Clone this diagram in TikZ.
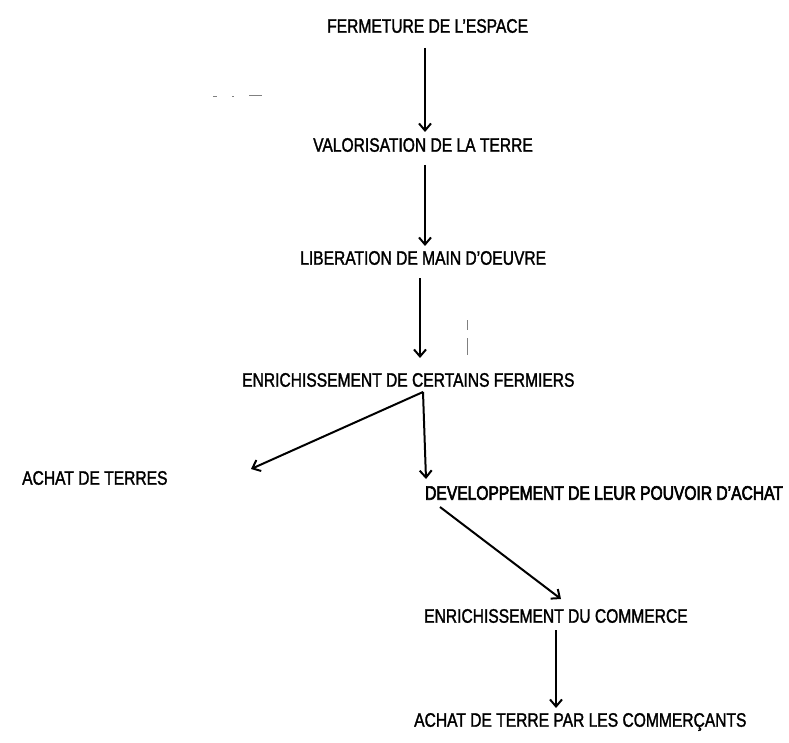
\documentclass[tikz,border=0pt]{standalone}
\usepackage{fontspec}
\setmainfont{Liberation Sans}[FakeStretch=0.8,FakeBold=1.5]
\usetikzlibrary{arrows.meta}
\begin{document}
\begin{tikzpicture}[x=1pt,y=-1pt,
  lbl/.style={inner sep=0pt,font=\fontsize{19.5}{22}\selectfont,anchor=west},
  boldlbl/.style={lbl,font=\fontsize{19.5}{22}\selectfont\addfontfeature{FakeBold=3}},
  arr/.style={line width=2pt,-{Straight Barb[length=7pt,width=12pt,line width=2pt]}},
  speck/.style={line width=0.8pt,gray}]
\useasboundingbox (0,0) rectangle (789,743);
\node[lbl] (n1) at (327,26) {FERMETURE DE L'ESPACE};
\node[lbl] (n2) at (313,145) {VALORISATION DE LA TERRE};
\node[lbl] (n3) at (300,258) {LIBERATION DE MAIN D'OEUVRE};
\node[lbl] (n4) at (242,380) {ENRICHISSEMENT DE CERTAINS FERMIERS};
\node[lbl] (n5) at (22,478) {ACHAT DE TERRES};
\node[boldlbl] (n6) at (425,493) {DEVELOPPEMENT DE LEUR POUVOIR D'ACHAT};
\node[lbl] (n7) at (424,616) {ENRICHISSEMENT DU COMMERCE};
\node[lbl] (n8) at (414,722) {ACHAT DE TERRE PAR LES COMMERÇANTS};
\coordinate (s1) at (425,48);  \coordinate (e1) at (425,132);
\coordinate (s2) at (425,165); \coordinate (e2) at (425,246);
\coordinate (s3) at (420,278); \coordinate (e3) at (420,358);
\coordinate (f)  at (423,392);
\coordinate (e4) at (426,479); \coordinate (e5) at (251,469);
\coordinate (s6) at (440,507); \coordinate (e6) at (561,599);
\coordinate (s7) at (556,630); \coordinate (e7) at (556,708);
\draw[arr] (s1) -- (e1);
\draw[arr] (s2) -- (e2);
\draw[arr] (s3) -- (e3);
\draw[arr] (f) -- (e4);
\draw[arr] (f) -- (e5);
\draw[arr] (s6) -- (e6);
\draw[arr] (s7) -- (e7);
\draw[speck] (213,96) -- (217,96) (232,96) -- (234,96) (249,95) -- (262,95);
\draw[speck] (467,320) -- (467,330) (467,338) -- (467,355);
\end{tikzpicture}
\end{document}
